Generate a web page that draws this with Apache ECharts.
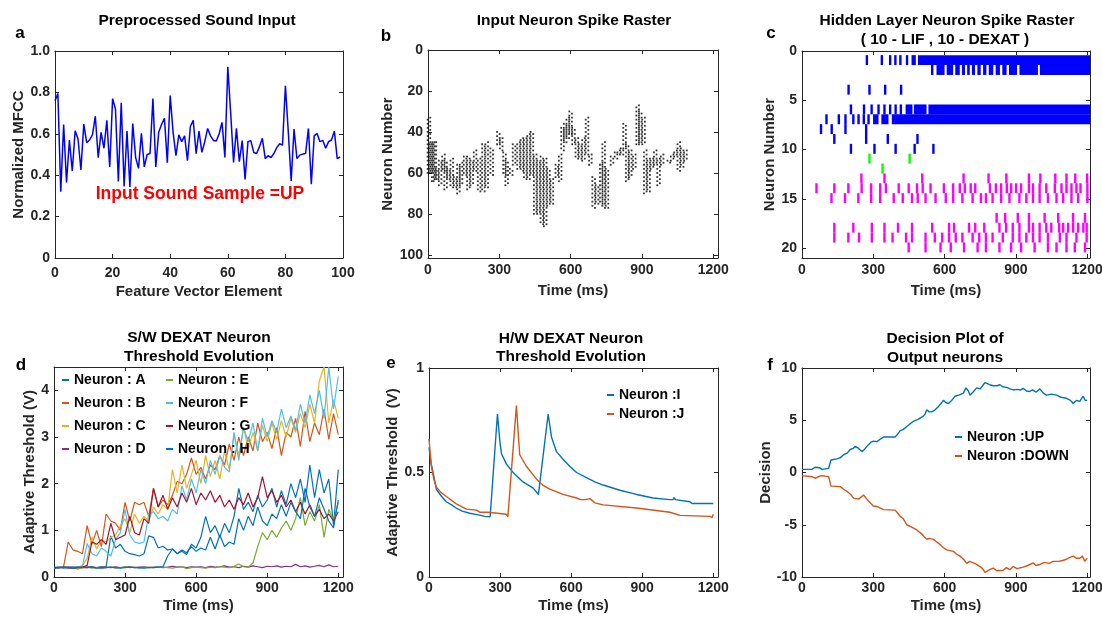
<!DOCTYPE html>
<html>
<head>
<meta charset="utf-8">
<title>DEXAT network plots</title>
<script src="https://cdn.jsdelivr.net/npm/echarts@6/dist/echarts.min.js"></script>
<style>
  html, body { margin: 0; background: #fff; }
  #main { width: 1102px; height: 618px; }
</style>
</head>
<body>
<div id="main"></div>
<script>
// ---- a: normalized MFCC feature vector (elements 0..99)
var mfcc = [0.76,0.795,0.32,0.645,0.365,0.57,0.42,0.615,0.575,0.425,
  0.647,0.557,0.57,0.595,0.685,0.485,0.607,0.53,0.665,0.44,
  0.77,0.72,0.37,0.75,0.345,0.613,0.343,0.65,0.485,0.433,
  0.602,0.44,0.5,0.505,0.77,0.44,0.607,0.645,0.675,0.46,
  0.785,0.607,0.494,0.595,0.562,0.59,0.47,0.635,0.665,0.504,
  0.613,0.51,0.562,0.626,0.59,0.568,0.565,0.6,0.655,0.486,
  0.924,0.7,0.462,0.626,0.465,0.567,0.38,0.562,0.567,0.51,
  0.505,0.538,0.578,0.48,0.494,0.485,0.505,0.533,0.552,0.545,
  0.832,0.61,0.372,0.623,0.48,0.497,0.502,0.505,0.626,0.356,
  0.59,0.602,0.562,0.568,0.53,0.562,0.57,0.613,0.48,0.488];

// ---- b: input raster, each column = [time (ms), first neuron, last neuron]
var inputCols = [[4,33,60],[13,45,60],[22,45,64],[29,45,64],[38,58,63],[51,54,66],[65,51,59],
  [74,54,68],[86,58,63],[100,53,67],[114,62,67],[128,56,70],[139,55,66],[156,52,61],
  [170,52,68],[184,54,66],[198,49,59],[215,53,69],[233,46,69],[247,45,67],[268,48,61],
  [296,40,46],[308,43,49],[322,50,61],[331,54,66],[350,58,61],[362,46,56],[381,45,58],
  [395,43,59],[409,43,63],[423,41,63],[437,40,61],[451,51,80],[465,54,80],[479,52,85],
  [493,53,86],[507,58,76],[521,63,75],[542,56,62],[556,51,64],[566,38,49],[577,36,45],
  [588,33,43],[600,30,41],[612,38,46],[626,43,53],[640,46,53],[654,43,54],[669,33,51],
  [683,51,56],[697,62,77],[711,66,75],[729,55,75],[739,45,77],[753,58,77],[774,52,56],
  [791,50,53],[802,49,51],[816,48,51],[827,36,48],[838,46,64],[851,49,62],[868,51,58],
  [882,27,46],[893,30,46],[907,33,46],[914,49,70],[928,53,69],[942,53,58],[956,49,56],
  [970,53,66],[985,51,56],[1013,54,55],[1027,51,54],[1041,49,52],[1055,45,59],[1069,48,57],
  [1083,49,54]];

// ---- c: hidden layer raster, spike times (ms) per neuron row
var lifSpikes = {
  1: [273, 336, 371, 393, 414, 442],
  4: [196, 284, 350, 417],
  6: [206, 261, 293, 322, 347, 371, 394, 416],
  7: [103, 155, 183, 216, 238, 260, 280],
  8: [80, 125, 183, 270],
  9: [136, 270, 361, 486],
  10: [206, 305, 394, 474, 553]
};
// dense firing stretches: [start ms, end ms, row]
var lifBursts = [[461,479,1],[488,1212,1],
  [548,558,2],[566,600,2],[609,636,2],[645,664,2],[673,686,2],[695,706,2],[715,728,2],
  [738,752,2],[762,776,2],[786,805,2],[815,833,2],[843,861,2],[871,905,2],[915,993,2],[1001,1212,2],
  [436,465,6],[471,524,6],[532,1212,6],
  [299,322,7],[334,364,7],[378,1212,7]];
var greenSpikes = {11: [284, 453], 12: [339]};
var dexatSpikes = {
  13: [250, 347, 506, 680, 785, 860, 955, 1003, 1066, 1113, 1150, 1200],
  14: [61, 136, 195, 251, 291, 329, 353, 407, 449, 484, 508, 541, 597, 636, 664, 685, 710, 729,
       791, 816, 838, 862, 880, 901, 922, 955, 972, 1000, 1028, 1064, 1092, 1113, 1134, 1155, 1172, 1201],
  15: [124, 181, 237, 291, 329, 386, 424, 463, 487, 520, 562, 605, 636, 675, 718, 753, 774, 802,
       838, 873, 915, 944, 972, 1000, 1035, 1071, 1099, 1134, 1162, 1201],
  17: [819, 855, 908, 955, 1021, 1078, 1141, 1191],
  18: [136, 216, 294, 347, 404, 463, 548, 619, 640, 703, 729, 767, 831, 859, 887, 915, 955, 972,
       1000, 1028, 1049, 1082, 1099, 1120, 1141, 1162, 1184, 1198],
  19: [136, 195, 240, 294, 347, 381, 438, 463, 520, 559, 590, 619, 647, 675, 718, 746, 774, 802,
       845, 887, 915, 944, 972, 1000, 1035, 1085, 1113, 1155, 1198],
  20: [449, 520, 583, 626, 682, 739, 774, 831, 880, 922, 979, 1035, 1071, 1113, 1148, 1191]
};

// ---- d: S/W DEXAT thresholds, sampled every 20 ms from 0 to 1200 ms
var swNames = ['Neuron : A', 'Neuron : B', 'Neuron : C', 'Neuron : D',
               'Neuron : E', 'Neuron : F', 'Neuron : G', 'Neuron : H'];
var swA = [0.2,0.21,0.19,0.2,0.22,0.2,0.21,0.2,0.22,0.2,0.21,
  0.22,0.88,0.62,0.7,0.55,0.5,0.48,0.45,0.5,0.88,
  0.85,0.62,0.66,0.58,0.6,0.5,0.55,0.48,0.7,0.62,
  0.85,1.3,0.95,1.1,0.85,1.15,0.95,1.3,1.9,1.45,
  1.6,1.4,1.75,1.5,1.65,1.9,1.5,1.85,1.55,2.0,
  1.7,2.1,1.6,2.4,1.7,2.3,1.8,2.1,1.1,2.3];
var swB = [0.2,0.2,0.21,0.75,0.58,0.55,0.5,1.1,0.7,1.0,0.65,
  1.35,1.2,1.15,1.0,1.6,1.2,1.6,1.55,1.6,1.3,
  1.9,1.5,1.65,1.55,1.75,2.05,2.0,2.2,2.55,2.2,
  2.35,2.1,2.4,2.3,2.6,2.4,2.85,2.5,3.0,2.6,
  3.0,2.7,3.3,2.9,3.1,2.75,3.2,2.6,3.1,3.0,
  3.4,2.8,3.55,2.9,3.3,3.05,3.6,2.95,3.5,3.05];
var swC = [0.2,0.2,0.21,0.2,0.2,0.21,0.25,0.4,0.85,0.6,0.8,
  0.75,0.85,0.9,1.1,1.25,0.95,1.35,1.15,1.3,1.2,
  1.5,1.35,1.55,1.45,2.3,1.8,2.4,1.9,2.2,2.5,
  2.0,2.6,2.15,2.5,2.1,2.7,2.3,3.05,2.6,3.2,
  2.75,3.1,2.7,3.25,2.9,3.3,2.95,3.35,3.0,3.4,
  3.1,3.5,3.2,3.7,3.3,4.2,4.5,3.3,3.8,3.4];
var swD = [0.2,0.21,0.2,0.22,0.2,0.21,0.2,0.22,0.21,0.2,0.22,
  0.21,0.2,0.22,0.2,0.21,0.22,0.2,0.21,0.22,0.2,
  0.21,0.22,0.2,0.21,0.23,0.21,0.22,0.2,0.22,0.21,
  0.22,0.2,0.23,0.21,0.22,0.24,0.21,0.22,0.2,0.23,
  0.21,0.24,0.22,0.2,0.23,0.22,0.24,0.21,0.23,0.22,
  0.27,0.22,0.24,0.21,0.23,0.25,0.22,0.26,0.22,0.23];
var swE = [0.2,0.19,0.21,0.18,0.2,0.17,0.2,0.21,0.19,0.2,0.18,
  0.2,0.21,0.19,0.2,0.22,0.2,0.21,0.19,0.2,0.21,
  0.2,0.22,0.21,0.2,0.19,0.21,0.22,0.18,0.2,0.21,
  0.2,0.19,0.21,0.2,0.22,0.21,0.2,0.23,0.28,0.22,
  0.21,0.3,0.65,0.95,0.8,1.0,0.85,1.05,1.2,1.0,
  1.25,1.7,1.1,1.4,1.2,1.55,0.85,1.45,1.2,1.6];
var swF = [0.2,0.21,0.2,0.19,0.2,0.21,0.22,0.72,0.5,0.45,0.62,
  0.55,0.45,0.8,0.95,1.45,0.9,0.75,0.72,0.75,1.35,
  1.4,1.25,1.3,1.2,1.45,1.35,1.95,1.65,2.1,1.8,
  2.3,2.0,2.5,2.2,2.6,2.35,2.25,3.1,2.5,3.2,
  2.9,3.3,2.7,3.4,3.0,3.35,3.1,3.6,3.2,3.45,
  3.15,3.7,3.3,3.9,3.5,4.0,3.4,4.5,3.6,4.3];
var swG = [0.2,0.2,0.21,0.2,0.19,0.2,0.21,0.25,0.75,0.7,0.8,
  0.7,1.15,0.8,0.85,0.9,1.3,0.95,0.9,1.25,1.15,
  1.9,1.5,1.75,1.45,1.7,1.5,1.8,1.6,1.9,1.55,
  1.8,1.65,1.85,1.6,1.75,1.5,1.65,1.45,1.7,1.55,
  1.8,1.5,1.7,2.15,1.7,1.85,1.6,1.75,1.5,1.65,
  1.4,1.6,1.35,1.55,1.3,1.45,1.25,1.35,1.2,1.4];
var swH = [0.19,0.2,0.21,0.2,0.19,0.21,0.2,0.2,0.21,0.19,0.2,
  0.2,0.21,0.2,0.19,0.2,0.21,0.2,0.2,0.19,0.2,
  0.2,0.21,0.22,0.45,0.6,0.5,0.58,0.52,0.65,0.55,
  0.62,0.58,0.85,0.6,0.9,0.65,0.75,0.7,1.25,1.0,
  1.3,1.1,1.5,1.2,1.1,1.35,1.25,1.55,1.3,1.6,
  1.4,1.25,1.9,1.5,1.3,1.7,1.45,1.2,1.05,1.65];
var swStep = 20;

// ---- e: H/W DEXAT thresholds, [time ms, V]
var hwI = [[0,0.62],[8,0.55],[17,0.5],[31,0.42],[50,0.39],[73,0.36],[95,0.345],[115,0.33],
  [140,0.315],[172,0.305],[214,0.296],[235,0.29],[258,0.288],[289,0.78],[300,0.64],[306,0.59],
  [327,0.54],[355,0.5],[397,0.455],[440,0.425],[462,0.395],[470,0.392],[503,0.78],[517,0.67],
  [538,0.6],[565,0.565],[594,0.53],[623,0.5],[665,0.475],[700,0.455],[735,0.44],[806,0.415],
  [876,0.395],[946,0.378],[1017,0.37],[1030,0.37],[1035,0.38],[1040,0.37],[1101,0.36],
  [1110,0.352],[1200,0.352]];
var hwJ = [[0,0.66],[10,0.53],[20,0.47],[31,0.43],[50,0.405],[73,0.385],[115,0.35],[158,0.325],
  [200,0.32],[214,0.31],[249,0.31],[327,0.3],[333,0.288],[369,0.82],[376,0.7],[383,0.585],
  [411,0.53],[454,0.468],[480,0.44],[510,0.42],[566,0.395],[623,0.378],[640,0.37],[645,0.375],
  [660,0.37],[679,0.375],[700,0.355],[735,0.345],[876,0.33],[1017,0.31],[1059,0.295],
  [1186,0.29],[1195,0.285],[1200,0.3]];

// ---- f: output decision, [time ms, value]
var outUp = [[0,0.3],[42,0.3],[55,0.5],[63,0.6],[75,0.45],[84,0.3],[112,0.4],[118,0.45],[122,1.2],
  [147,1.3],[160,1.4],[175,1.7],[190,1.85],[203,2.2],[215,2.3],[224,2.5],[238,2.3],[252,2.0],
  [262,2.2],[273,2.5],[290,2.9],[301,3.0],[315,2.95],[330,3.2],[343,3.4],[392,3.4],[400,3.6],
  [413,4.0],[425,4.1],[441,4.4],[469,4.9],[490,5.1],[511,5.4],[518,5.6],[525,6.0],[535,5.8],
  [546,5.8],[560,6.0],[574,6.3],[585,6.6],[595,6.9],[605,6.7],[616,6.6],[630,6.9],[644,7.3],
  [660,7.4],[679,7.6],[690,8.1],[700,7.8],[707,7.4],[720,7.7],[735,8.1],[750,8.0],[763,8.4],
  [770,8.6],[790,8.4],[805,8.3],[820,8.3],[833,8.4],[845,8.2],[861,8.15],[875,8.0],[889,7.9],
  [905,7.95],[920,7.9],[931,8.05],[945,7.8],[959,7.75],[970,7.9],[985,7.7],[1001,8.0],[1015,7.6],
  [1029,7.4],[1050,7.5],[1071,7.4],[1090,7.2],[1113,7.1],[1130,6.9],[1141,6.6],[1155,6.9],
  [1169,6.8],[1183,7.3],[1192,6.9],[1200,6.9]];
var outDown = [[0,-0.3],[42,-0.4],[55,-0.55],[63,-0.6],[75,-0.35],[84,-0.3],[112,-0.4],[118,-0.5],
  [122,-1.3],[161,-1.35],[175,-1.6],[189,-1.8],[205,-2.1],[217,-2.45],[238,-2.55],[259,-2.15],
  [275,-2.6],[287,-2.9],[300,-3.2],[315,-3.25],[330,-3.4],[343,-3.55],[392,-3.6],[400,-3.8],
  [413,-4.2],[425,-4.4],[441,-5.0],[460,-5.2],[483,-5.5],[505,-5.9],[525,-6.4],[535,-6.3],
  [553,-6.4],[565,-6.6],[581,-6.9],[595,-7.2],[609,-7.4],[637,-7.55],[650,-7.8],[665,-8.0],
  [680,-8.3],[693,-8.7],[705,-8.5],[721,-8.65],[735,-8.8],[749,-9.0],[760,-9.2],[770,-9.55],
  [790,-9.3],[805,-9.15],[820,-9.4],[847,-9.35],[860,-9.1],[875,-9.3],[889,-9.0],[905,-9.2],
  [931,-9.05],[950,-8.9],[973,-8.65],[985,-8.9],[1001,-8.8],[1020,-8.6],[1040,-8.7],[1057,-8.5],
  [1080,-8.5],[1100,-8.4],[1113,-8.3],[1130,-8.1],[1141,-8.0],[1155,-8.2],[1169,-8.2],[1180,-8.0],
  [1190,-8.5],[1200,-8.2]];

// tick values
var timeTicks = [0, 300, 600, 900, 1200];
var featTicks = [0, 20, 40, 60, 80, 100];
var mfccTicks = [0, 0.2, 0.4, 0.6, 0.8, 1.0];
var inNeuronTicks = [0, 20, 40, 60, 80, 100];
var hidNeuronTicks = [0, 5, 10, 15, 20];
var swTicks = [0, 1, 2, 3, 4];
var hwTicks = [0, 0.5, 1];
var decTicks = [-10, -5, 0, 5, 10];

var FONT = '"Liberation Sans", Arial, Helvetica, sans-serif';
var INK = '#262626';
var MAT = ['#0072BD', '#D95319', '#EDB120', '#7E2F8E', '#77AC30', '#4DBEEE', '#A2142F', '#0072BD'];

var chart = echarts.init(document.getElementById('main'));

var grids = [
  {left: 55, top: 51, width: 288, height: 207},
  {left: 428, top: 50, width: 290, height: 208},
  {left: 802, top: 51, width: 288, height: 207},
  {left: 54, top: 367, width: 289, height: 210},
  {left: 429, top: 368, width: 289, height: 209},
  {left: 802, top: 368, width: 288, height: 209}
];
grids.forEach(function (g) { g.outerBoundsMode = 'none'; g.containLabel = false; });

function plain(v) { return String(v); }

function makeAxis(gi, pos, range, ticks, o) {
  o = o || {};
  var main = pos === 'bottom' || pos === 'left';
  var ax = {
    type: 'value', gridIndex: gi, position: pos,
    min: range[0], max: range[1], inverse: !!o.inverse,
    axisLine: {show: true, onZero: false, lineStyle: {color: INK, width: 1}},
    axisTick: {show: true, inside: true, length: 4, customValues: ticks,
      lineStyle: {color: INK, width: 1}},
    axisLabel: {show: main, customValues: ticks, margin: o.margin || 5, color: INK,
      fontFamily: FONT, fontSize: 14, fontWeight: 'bold', formatter: o.fmt || plain},
    splitLine: {show: false}
  };
  if (main && o.name) {
    ax.name = o.name;
    ax.nameLocation = 'middle';
    ax.nameGap = o.gap;
    ax.nameTextStyle = {color: INK, fontFamily: FONT, fontSize: 15, fontWeight: 'bold'};
  }
  return ax;
}

var xAxes = [], yAxes = [];
function panel(gi, xr, xt, xo, yr, yt, yo) {
  xAxes.push(makeAxis(gi, 'bottom', xr, xt, xo));
  xAxes.push(makeAxis(gi, 'top', xr, xt, {}));
  yAxes.push(makeAxis(gi, 'left', yr, yt, yo));
  yAxes.push(makeAxis(gi, 'right', yr, yt, {inverse: yo.inverse}));
}
panel(0, [0, 100], featTicks, {name: 'Feature Vector Element', gap: 26, margin: 8},
  [0, 1], mfccTicks, {name: 'Normalized MFCC', gap: 27,
    fmt: function (v) { return v === 0 ? '0' : v.toFixed(1); }});
panel(1, [0, 1220], timeTicks, {name: 'Time (ms)', gap: 25, margin: 5},
  [0, 101.5], inNeuronTicks, {name: 'Neuron Number', gap: 28, inverse: true});
panel(2, [0, 1212], timeTicks, {name: 'Time (ms)', gap: 25, margin: 5},
  [0, 21], hidNeuronTicks, {name: 'Neuron Number', gap: 22, inverse: true});
panel(3, [0, 1220], timeTicks, {name: 'Time (ms)', gap: 21, margin: 4},
  [0, 4.5], swTicks, {name: 'Adaptive Threshold (V)', gap: 14});
panel(4, [0, 1220], timeTicks, {name: 'Time (ms)', gap: 21, margin: 4},
  [0, 1], hwTicks, {name: 'Adaptive Threshold  (V)', gap: 28});
panel(5, [0, 1212], timeTicks, {name: 'Time (ms)', gap: 21, margin: 4},
  [-10, 10], decTicks, {name: 'Decision', gap: 29});

// raster helpers: input spikes drawn as a checkered dot column
var rasterDots = [];
inputCols.forEach(function (c) {
  for (var n = c[1]; n <= c[2]; n++) {
    rasterDots.push({value: [c[0], n], symbolOffset: [n % 2 ? 1.3 : -1.3, 0]});
  }
});
function spikeRows(obj) {
  var out = [];
  Object.keys(obj).forEach(function (r) {
    obj[r].forEach(function (t) { out.push([t, t, +r]); });
  });
  return out;
}
function rasterItem(params, api) {
  var t0 = api.value(0), t1 = api.value(1), row = api.value(2);
  var p0 = api.coord([t0, row - 0.58]);
  var p1 = api.coord([t1, row + 0.43]);
  var w = p1[0] - p0[0], x = p0[0];
  if (w < 2.4) { x = p0[0] - 1.2; w = 2.4; }
  return {type: 'rect', shape: {x: x, y: p0[1], width: w, height: p1[1] - p0[1]},
    style: {fill: api.visual('color')}};
}
function raster(data, color) {
  return {type: 'custom', xAxisIndex: 4, yAxisIndex: 4, data: data, clip: true,
    renderItem: rasterItem, itemStyle: {color: color}, encode: {x: [0, 1], y: 2}};
}

var series = [
  {type: 'line', xAxisIndex: 0, yAxisIndex: 0, symbol: 'none',
    data: mfcc.map(function (v, i) { return [i, v]; }),
    lineStyle: {color: '#0000FF', width: 1.5}},
  {type: 'scatter', xAxisIndex: 2, yAxisIndex: 2, symbol: 'rect', symbolSize: 1.8,
    data: rasterDots, itemStyle: {color: '#000'}},
  raster(spikeRows(lifSpikes).concat(lifBursts), '#0000FF'),
  raster(spikeRows(greenSpikes), '#00FF00'),
  raster(spikeRows(dexatSpikes), '#FF00FF')
];
[swA, swB, swC, swD, swE, swF, swG, swH].forEach(function (arr, k) {
  series.push({type: 'line', name: swNames[k], xAxisIndex: 6, yAxisIndex: 6, symbol: 'none',
    data: arr.map(function (v, i) { return [i * swStep, v]; }),
    lineStyle: {color: MAT[k], width: 1.2}, itemStyle: {color: MAT[k]}});
});
series.push({type: 'line', name: 'Neuron :I', xAxisIndex: 8, yAxisIndex: 8, symbol: 'none',
  data: hwI, lineStyle: {color: MAT[0], width: 1.4}, itemStyle: {color: MAT[0]}});
series.push({type: 'line', name: 'Neuron :J', xAxisIndex: 8, yAxisIndex: 8, symbol: 'none',
  data: hwJ, lineStyle: {color: MAT[1], width: 1.4}, itemStyle: {color: MAT[1]}});
series.push({type: 'line', name: 'Neuron :UP', xAxisIndex: 10, yAxisIndex: 10, symbol: 'none',
  data: outUp, lineStyle: {color: MAT[0], width: 1.4}, itemStyle: {color: MAT[0]}});
series.push({type: 'line', name: 'Neuron :DOWN', xAxisIndex: 10, yAxisIndex: 10, symbol: 'none',
  data: outDown, lineStyle: {color: MAT[1], width: 1.4}, itemStyle: {color: MAT[1]}});

function legendAt(names, left, top, gap) {
  return {data: names, left: left, top: top, orient: 'vertical', icon: 'rect',
    itemWidth: 7, itemHeight: 2, itemGap: gap, padding: 0, selectedMode: false,
    textStyle: {fontFamily: FONT, fontSize: 14, fontWeight: 'bold', color: '#000', lineHeight: 16}};
}

function label(text, x, y, size, color) {
  return {type: 'text', x: x, y: y, silent: true,
    style: {text: text, fill: color || '#000', font: 'bold ' + size + 'px ' + FONT,
      align: 'center', verticalAlign: 'middle', textAlign: 'center', textVerticalAlign: 'middle'}};
}

chart.setOption({
  animation: false,
  grid: grids,
  xAxis: xAxes,
  yAxis: yAxes,
  legend: [
    legendAt(swNames.slice(0, 4), 62, 372, 7),
    legendAt(swNames.slice(4), 166, 372, 7),
    legendAt(['Neuron :I', 'Neuron :J'], 607, 387, 3),
    legendAt(['Neuron :UP', 'Neuron :DOWN'], 955, 429, 3)
  ],
  graphic: [
    label('Preprocessed Sound Input', 197, 21, 15.5),
    label('Input Neuron Spike Raster', 574, 21, 15.5),
    label('Hidden Layer Neuron Spike Raster', 947, 21, 15.5),
    label('( 10 - LIF , 10 - DEXAT )', 945, 40, 15.5),
    label('S/W DEXAT Neuron', 199, 338, 15.5),
    label('Threshold Evolution', 199, 357, 15.5),
    label('H/W DEXAT Neuron', 571, 339, 15.5),
    label('Threshold Evolution', 571, 357, 15.5),
    label('Decision Plot of', 945, 339, 15.5),
    label('Output neurons', 945, 358, 15.5),
    label('a', 20, 33, 17),
    label('b', 386, 36, 17),
    label('c', 771, 33, 17),
    label('d', 21, 365, 17),
    label('e', 391, 363, 17),
    label('f', 770, 365, 17),
    label('Input Sound Sample =UP', 200, 194, 17.5, '#FF0000')
  ],
  series: series
});
</script>
</body>
</html>
